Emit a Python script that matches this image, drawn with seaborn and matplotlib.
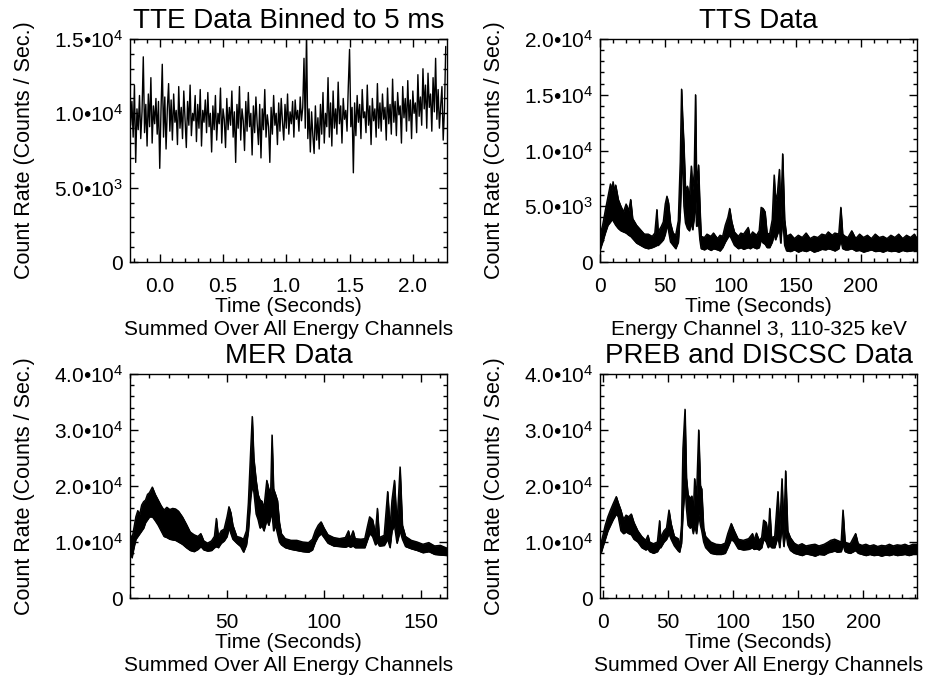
import numpy as np
import pandas as pd
import matplotlib
matplotlib.use("Agg")
import matplotlib.pyplot as plt
from matplotlib.ticker import FixedLocator, MultipleLocator, FuncFormatter
import seaborn as sns

# ---------------- data ----------------
# TTE: count rate in 10 ms steps starting at -0.23 s
tte_t0 = -0.23
tte_dt = 0.01
tte_rate = [
    9200, 10800, 8400, 11900, 6700, 10300, 8900, 11200, 8300, 10100,
    13800, 8700, 10600, 7800, 11300, 9100, 12400, 8000, 10500, 9300,
    11000, 8600, 10800, 6300, 10200, 13300, 8400, 11100, 7600, 10300,
    12000, 8800, 10900, 8200, 11300, 9400, 10200, 7900, 11800, 9000,
    10400, 8300, 11500, 9600, 7700, 10800, 9200, 11900, 8500, 10000,
    9500, 11200, 8100, 10600, 9000, 11600, 7800, 10200, 9400, 10900,
    8700, 11400, 9100, 10000, 7400, 10500, 8900, 11200, 8200, 10000,
    9300, 11700, 8000, 10300, 9600, 7700, 11000, 8900, 10400, 9200,
    11500, 8400, 10100, 6700, 10600, 9000, 11800, 8200, 10300, 9500,
    7500, 10800, 8800, 11400, 9100, 10000, 7200, 10500, 8700, 11100,
    9300, 7900, 10600, 7000, 10300, 8900, 11600, 8400, 9900, 9100,
    6700, 10400, 8600, 11200, 9200, 10000, 7900, 10700, 8800, 11000,
    9400, 8200, 10600, 9000, 11300, 8600, 10100, 9300, 10800, 8400,
    10900, 9600, 10200, 8800, 11100, 9500, 10400, 13700, 9000, 15500,
    8300, 10300, 7400, 10100, 8500, 7300, 10500, 8200, 9700, 7600,
    10600, 8600, 11400, 8000, 10000, 9100, 12400, 8400, 10700, 7800,
    11500, 9000, 10300, 8600, 12100, 9300, 10500, 8000, 11000, 9600,
    10200, 8800, 11800, 14300, 9100, 10400, 6000, 10700, 8500, 11200,
    9400, 10600, 8300, 11600, 9700, 10100, 8700, 11900, 9200, 10500,
    7900, 11000, 9500, 10300, 8400, 12000, 9000, 10700, 8800, 11300,
    9600, 10400, 8200, 11700, 9300, 10600, 8600, 12300, 9400, 10800,
    8500, 11400, 9900, 10500, 8000, 11800, 9700, 11000, 8800, 12200,
    9500, 10900, 8300, 11500, 10000, 10700, 8700, 12600, 9800, 11100,
    9200, 13000, 10300, 11900, 9000, 12700, 10400, 11300, 8800, 12400,
    10100, 13700, 9600, 11600, 9000, 10500, 11800, 8200, 10300, 14500,
]

# TTS channel 3: time, lower and upper edge of the noisy band
tts_time = [0, 2, 4, 6, 8, 9, 10, 11, 12, 14,
            16, 18, 20, 22, 23.5, 25, 28, 31, 34, 37,
            40, 42, 43.6, 44.5, 47, 48.5, 50, 51.3, 52.5, 54,
            56, 58, 60, 61.5, 62.5, 63.3, 64.3, 65.5, 67, 68.5,
            70, 71, 72.2, 73.2, 74, 75.5, 76.5, 77.5, 80, 82,
            85, 87, 90, 92, 94, 96, 98, 99.4, 101, 103,
            106, 108, 110, 113.6, 115, 117, 120, 122, 123.5, 125,
            126.5, 128, 130, 132, 133.5, 134.5, 136, 137.5, 138.5, 140,
            141.5, 143, 146, 149, 152, 155, 158, 161, 164, 167,
            170, 173, 175, 178, 180, 183, 184.6, 186, 188, 190,
            193, 196, 199, 202, 205, 208, 211, 214, 217, 220,
            223, 226, 229, 232, 235, 238, 241, 243]
tts_low = [1100, 1800, 2600, 3300, 3600, 3800, 3700, 3500, 3300, 3000,
           2800, 2700, 2600, 2400, 2300, 2100, 1700, 1500, 1300, 1200,
           1300, 1400, 1500, 1500, 1800, 2000, 2500, 3300, 2800, 1800,
           1500, 1200, 1800, 4500, 8000, 9000, 5000, 3500, 3000, 2800,
           3500, 2900, 4000, 5500, 3200, 3500, 2000, 1200, 1100, 1250,
           1050, 1200, 1100, 1000, 1300, 1800, 2200, 2400, 2000, 1500,
           1200, 1300, 1150, 1300, 1200, 1350, 1200, 1300, 2000, 1700,
           1600, 1300, 1300, 1800, 2500, 2000, 2500, 3000, 1700, 4000,
           1500, 1000, 950, 1100, 900, 1050, 950, 1100, 900, 1000,
           1150, 1100, 1200, 1100, 1000, 1200, 2000, 1200, 1100, 1100,
           1200, 1000, 1050, 900, 1000, 1100, 950, 1000, 900, 1050,
           950, 1000, 900, 1050, 950, 1000, 1050, 1000]
tts_high = [2400, 3300, 4600, 5800, 7000, 6400, 7200, 6300, 6900, 5600,
            5000, 4500, 5200, 4600, 5600, 3900, 3300, 2900, 2500, 2500,
            2300, 2600, 4700, 2700, 3200, 3600, 5200, 5900, 5300, 3500,
            2600, 2400, 3700, 9000, 15500, 13000, 10500, 6500, 6800, 5800,
            8600, 6500, 8000, 15000, 7000, 8700, 5200, 2300, 2200, 2500,
            2300, 2600, 2100, 2400, 2300, 3300, 4000, 4800, 3600, 2700,
            2300, 2600, 2500, 3100, 2300, 2700, 2400, 2800, 4900, 4800,
            4500, 2600, 2500, 3800, 7800, 5500, 6200, 8300, 4000, 9700,
            3800, 2300, 2500, 2100, 2400, 2200, 2600, 2100, 2300, 2200,
            2500, 2400, 2700, 2400, 2600, 2500, 4900, 2500, 2300, 2200,
            2800, 2100, 2500, 2200, 2400, 2100, 2500, 2200, 2300, 2100,
            2400, 2200, 2500, 2100, 2400, 2200, 2500, 2100]

# MER: time, lower and upper edge
mer_time = [0, 1, 2, 3, 4, 5, 6, 7, 8, 9,
            10, 11.5, 13, 14.5, 16, 17.5, 19, 20.5, 22, 23.5,
            25, 27, 29, 31, 33, 35, 36.5, 38, 40, 42,
            43.5, 44.5, 45.5, 47, 48.5, 50, 51, 52, 53, 55,
            57, 58.5, 60, 61, 62.2, 63, 63.8, 65, 66, 67,
            68, 69, 70.5, 71.5, 72.5, 73.2, 74, 75, 76, 77,
            78, 80, 83, 86, 89, 92, 94, 95.5, 97, 98.5,
            100, 102, 105, 108, 111, 112.6, 113.5, 115, 116, 119,
            121, 122.5, 123.5, 125, 126.5, 127.5, 128.5, 131, 132.8, 134,
            135, 136.3, 137.6, 139.2, 140.4, 142, 145, 148, 151, 154,
            157, 160, 163.4]
mer_low = [8500, 7200, 9000, 10500, 11000, 11500, 12000, 12500, 13500, 14000,
           14500, 14500, 13800, 13000, 12000, 11000, 10800, 10500, 10400, 10300,
           10000, 9600, 9000, 8500, 8300, 8700, 9200, 8600, 8400, 8500,
           9000, 9200, 9000, 9800, 10200, 11000, 12500, 11500, 10500, 9800,
           9200, 8200, 9500, 12000, 18000, 20000, 19000, 15000, 14000, 12500,
           13000, 12000, 14000, 13000, 14500, 15000, 12000, 13000, 11500, 10000,
           9500, 9000, 8700, 8500, 8300, 8200, 8600, 10000, 11000, 11500,
           10800, 9800, 9300, 9200, 9100, 9300, 9100, 9300, 9000, 9000,
           9000, 10500, 11500, 11000, 9500, 10000, 9300, 9400, 10500, 9000,
           12000, 13000, 9800, 12000, 10500, 9200, 8800, 8500, 8100, 8300,
           7800, 7700, 7600]
mer_high = [11500, 10500, 12500, 14500, 15600, 15000, 16600, 17200, 17500, 18500,
            18800, 19800, 18500, 17500, 16500, 15700, 16200, 15800, 16000, 15900,
            15500, 14500, 13200, 11800, 11300, 11000, 11500, 10200, 9800, 10200,
            11000, 14200, 11000, 12000, 12300, 14500, 16300, 15200, 13000, 11000,
            10800, 10500, 12000, 17000, 26500, 32400, 25000, 21000, 18500, 17500,
            17300, 16000, 21000, 19500, 19000, 29100, 19500, 18500, 17400, 13500,
            11500, 10600, 10300, 10300, 10000, 9900, 10500, 12000, 13000, 13600,
            12500, 11300, 10800, 10600, 10800, 12000, 10600, 12000, 10600, 10500,
            10600, 13000, 14500, 14000, 11500, 16000, 10800, 11200, 19000, 12500,
            17400, 21000, 13000, 23400, 13000, 11000, 10300, 10000, 9600, 9900,
            9300, 9400, 8900]

# PREB + DISCSC: time, lower and upper edge
preb_time = [-2, -1, 0, 2, 4, 6, 8, 10.5, 12, 14,
             16, 18, 20, 22, 24, 27, 30, 33, 34.8, 36,
             39, 42, 43.7, 44.5, 47, 49, 50.9, 52.5, 55, 58,
             59, 60.5, 61.6, 63.2, 64.3, 65.5, 67, 68.5, 69.5, 70.6,
             72, 73.7, 75, 76, 77.5, 79, 83, 87, 91, 94,
             96, 98.7, 101, 104, 108, 112, 115, 116, 118, 120,
             122, 123.5, 125.5, 127, 128.2, 129.5, 132, 134.5, 135.8, 137.6,
             139, 140.4, 142, 144, 147, 150, 153, 156, 160, 163,
             166, 170, 173, 175, 178, 180, 183, 184.4, 186, 188,
             190, 194.1, 196, 199, 202, 205, 208, 211, 214, 217,
             220, 223, 226, 229, 232, 235, 238, 241.2]
preb_low = [8000, 8200, 9000, 10500, 12000, 13000, 14000, 15000, 14500, 12000,
            11500, 11800, 11500, 11300, 10500, 10000, 9000, 8600, 8800, 8300,
            8000, 8300, 9000, 9000, 10000, 10500, 11500, 10500, 9300, 8400,
            8200, 9800, 15000, 20000, 16000, 13000, 12500, 12800, 11500, 13000,
            11500, 15000, 13000, 12000, 10000, 9000, 8000, 7800, 7800, 8000,
            9000, 10500, 10000, 8800, 8600, 8700, 9000, 8700, 8800, 8600,
            9000, 10500, 10000, 9000, 9500, 9000, 9000, 11000, 9000, 13000,
            9200, 12000, 9500, 8500, 8000, 7800, 7600, 7900, 7700, 7500,
            7800, 7700, 8100, 8200, 8400, 8200, 8300, 9500, 8300, 8100,
            8000, 8500, 8000, 7800, 7600, 7800, 7600, 7700, 7500, 7700,
            7600, 7800, 7600, 7700, 7800, 7600, 7800, 7800]
preb_high = [10500, 10000, 11000, 13000, 14500, 15700, 16800, 18100, 17000, 15700,
             14000, 14800, 14500, 15000, 13500, 12000, 11000, 10300, 11200, 10000,
             9700, 10000, 13800, 10800, 12000, 12500, 15700, 13300, 11000, 10600,
             9000, 13000, 26700, 33700, 21500, 18500, 17800, 18200, 15000, 21300,
             18000, 30000, 20100, 19500, 12500, 11000, 10000, 9600, 9500, 9800,
             11500, 13300, 12000, 10500, 10300, 10600, 11500, 10300, 11600, 10300,
             10800, 13900, 13500, 11000, 16000, 10800, 11000, 19000, 12000, 21300,
             12000, 22700, 12000, 10800, 9800, 9400, 9700, 9300, 9500, 9600,
             9300, 9600, 10000, 10300, 10500, 10300, 10000, 15700, 10000, 9800,
             9700, 11500, 9700, 9400, 9600, 9300, 9500, 9200, 9400, 9300,
             9600, 9300, 9500, 9400, 9600, 9300, 9600, 9600]

# ---------------- styling ----------------
sns.set_style("ticks")
plt.rcParams["font.family"] = ["Liberation Sans", "DejaVu Sans"]
plt.rcParams["mathtext.fontset"] = "custom"
plt.rcParams["mathtext.rm"] = "Liberation Sans"
plt.rcParams["mathtext.it"] = "Liberation Sans:italic"
plt.rcParams["mathtext.bf"] = "Liberation Sans:bold"
plt.rcParams["axes.linewidth"] = 1.0
for k in ["text.color", "axes.labelcolor", "xtick.color", "ytick.color", "axes.edgecolor"]:
    plt.rcParams[k] = "black"

W, H = 938, 681
fig = plt.figure(figsize=(W / 100, H / 100), dpi=100)


def fmt(v, pos):
    if v == 0:
        return "0"
    e = int(np.floor(np.log10(abs(v)) + 1e-9))
    m = v / 10 ** e
    return f"{m:.1f}•$10^{{{e}}}$"


def make_ax(px_left, px_top, px_right, px_bottom):
    return fig.add_axes([px_left / W, 1 - px_bottom / H,
                         (px_right - px_left) / W, (px_bottom - px_top) / H])


def style(ax, xlim, xmaj, xmin, ylim, ymaj, ymin, title, xlabel):
    ax.set_xlim(*xlim)
    ax.set_ylim(*ylim)
    ax.xaxis.set_major_locator(FixedLocator(xmaj))
    ax.xaxis.set_minor_locator(MultipleLocator(xmin))
    ax.yaxis.set_major_locator(FixedLocator(ymaj))
    ax.yaxis.set_minor_locator(MultipleLocator(ymin))
    ax.yaxis.set_major_formatter(FuncFormatter(fmt))
    ax.tick_params(which="both", direction="in", top=True, right=True,
                   width=1, color="black", labelsize=15, labelcolor="black")
    ax.tick_params(which="major", length=6)
    ax.tick_params(which="minor", length=3)
    ax.tick_params(axis="x", which="major", pad=11)
    ax.tick_params(axis="y", which="major", pad=5)
    for s in ax.spines.values():
        s.set_visible(True)
        s.set_color("black")
    ax.set_title(title, fontsize=20, pad=8, color="black")
    ax.set_xlabel(xlabel, fontsize=15, linespacing=1.3, va="top", color="black")
    ax.set_ylabel("Count Rate (Counts / Sec.)", fontsize=15.5, color="black")
    ax.xaxis.set_label_coords(0.5, -0.155)
    ax.yaxis.set_label_coords(-0.30, 0.5)
    ax.set_facecolor("white")


def band(ax, t, lo, hi):
    ax.fill_between(t, lo, hi, facecolor="black", edgecolor="black",
                    linewidth=0.6, antialiased=False)
    df = pd.DataFrame({"t": list(t) * 2, "v": list(lo) + list(hi),
                       "edge": ["lo"] * len(t) + ["hi"] * len(t)})
    sns.lineplot(data=df, x="t", y="v", units="edge", estimator=None, sort=False,
                 color="black", linewidth=1.0, ax=ax, legend=False)


# --- panel 1: TTE
ax1 = make_ax(130, 39, 447, 262)
tte_time = [round(tte_t0 + i * tte_dt, 3) for i in range(len(tte_rate))]
df1 = pd.DataFrame({"t": tte_time, "rate": tte_rate})
sns.lineplot(data=df1, x="t", y="rate", estimator=None, sort=False,
             color="black", linewidth=1.0, ax=ax1)
style(ax1, (-0.235, 2.27), [0.0, 0.5, 1.0, 1.5, 2.0], 0.1, (0, 15000),
      [0, 5000, 10000, 15000], 1000, "TTE Data Binned to 5 ms",
      "Time (Seconds)\nSummed Over All Energy Channels")
ax1.xaxis.set_major_formatter(FuncFormatter(lambda v, p: f"{v:.1f}"))

# --- panel 2: TTS
ax2 = make_ax(600, 39, 917, 262)
band(ax2, tts_time, tts_low, tts_high)
style(ax2, (0, 243), [0, 50, 100, 150, 200], 10, (0, 20000),
      [0, 5000, 10000, 15000, 20000], 1000, "TTS Data",
      "Time (Seconds)\nEnergy Channel 3, 110-325 keV")

# --- panel 3: MER
ax3 = make_ax(130, 374, 447, 598)
band(ax3, mer_time, mer_low, mer_high)
style(ax3, (0, 163.4), [50, 100, 150], 10, (0, 40000),
      [0, 10000, 20000, 30000, 40000], 2000, "MER Data",
      "Time (Seconds)\nSummed Over All Energy Channels")

# --- panel 4: PREB + DISCSC
ax4 = make_ax(600, 374, 917, 598)
band(ax4, preb_time, preb_low, preb_high)
style(ax4, (-2, 241.2), [0, 50, 100, 150, 200], 10, (0, 40000),
      [0, 10000, 20000, 30000, 40000], 2000, "PREB and DISCSC Data",
      "Time (Seconds)\nSummed Over All Energy Channels")

fig.savefig("out.png", dpi=100, facecolor="white")
